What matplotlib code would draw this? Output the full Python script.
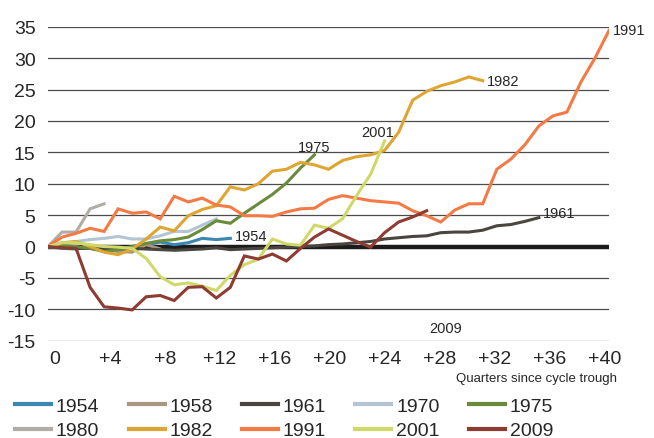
import numpy as np
import matplotlib

matplotlib.use("Agg")
import matplotlib.pyplot as plt
from matplotlib.lines import Line2D

plt.rcParams["font.family"] = ["Liberation Sans", "DejaVu Sans"]
plt.rcParams["axes.unicode_minus"] = False

# Recovery paths: % change from cycle trough, by quarter
years = ["1954", "1958", "1961", "1970", "1975", "1980", "1982", "1991", "2001", "2009"]

y1954 = [0, -0.3, -0.4, 0.1, -0.3, -0.6, -0.7, 0.3, 0.7, 0.3, 0.6, 1.3, 1.1, 1.3]
y1958 = [0, -0.2, -0.3, -0.3, -0.5, -0.8, -0.9, 0.3, -0.4]
y1961 = [0, -0.2, -0.3, -0.3, -0.5, -0.4, -0.3, -0.4, -0.5, -0.6, -0.5, -0.4,
         -0.2, -0.5, -0.4, -0.3, -0.2, -0.1, 0.0, 0.1, 0.3, 0.4, 0.6, 0.8,
         1.2, 1.4, 1.6, 1.7, 2.2, 2.3, 2.3, 2.6, 3.3, 3.5, 4.0, 4.6]
y1970 = [0, 0.4, 0.8, 1.1, 1.3, 1.6, 1.2, 1.2, 1.7, 2.4, 2.4, 3.4, 4.4]
y1975 = [0, 0.2, 0.0, -0.3, -0.8, -0.5, 0.0, 0.5, 0.9, 1.1, 1.5, 2.7, 4.1,
         3.7, 5.3, 6.8, 8.3, 10.1, 12.5, 14.6]
y1980 = [0, 2.3, 2.3, 6.0, 6.8]
y1982 = [0, 0.6, 0.8, 0.0, -0.9, -1.3, -0.4, 1.2, 3.1, 2.5, 4.9, 5.9, 6.5,
         9.5, 9.0, 10.0, 12.0, 12.3, 13.4, 13.0, 12.3, 13.7, 14.3, 14.6, 15.3,
         18.2, 23.3, 24.7, 25.6, 26.2, 27.0, 26.4]
y1991 = [0, 1.5, 2.1, 2.9, 2.4, 6.0, 5.3, 5.5, 4.4, 8.0, 7.1, 7.7, 6.6, 6.3,
         4.9, 4.9, 4.8, 5.5, 6.0, 6.1, 7.5, 8.1, 7.7, 7.3, 7.1, 6.9, 5.7, 4.9,
         3.9, 5.8, 6.8, 6.8, 12.3, 13.9, 16.2, 19.2, 20.8, 21.4, 26.2, 30.0, 34.4]
y2001 = [0, 0.6, 0.6, 0.3, 0.0, -0.1, -0.3, -1.9, -4.8, -6.1, -5.8, -6.3,
         -7.0, -4.6, -2.9, -2.0, 1.2, 0.4, 0.2, 3.4, 2.9, 4.4, 8.1, 11.5, 16.8]
y2009 = [0, -0.2, -0.3, -6.5, -9.6, -9.8, -10.1, -8.0, -7.8, -8.6, -6.5, -6.4,
         -8.2, -6.5, -1.5, -2.0, -1.2, -2.3, -0.3, 1.5, 2.8, 1.8, 0.8, -0.1,
         2.2, 3.9, 4.7, 5.7]

series = [y1954, y1958, y1961, y1970, y1975, y1980, y1982, y1991, y2001, y2009]

colors = ["#3a88b2", "#ab9680", "#4a453f", "#b3c4d4", "#6a8b3c",
          "#b0aca7", "#dea531", "#f47a45", "#cfd96a", "#8e3b32"]

# inline year labels (x in quarters, y in %)
inline_labels = {
    "1954": (13.3, 1.6),
    "1975": (17.8, 15.9),
    "2001": (22.3, 18.3),
    "1982": (31.3, 26.4),
    "1991": (40.3, 34.5),
    "1961": (35.3, 5.3),
    "2009": (27.2, -13.0),
}

xticks = list(range(0, 41, 4))
xtick_labels = ["0"] + [f"+{q}" for q in xticks[1:]]
yticks = list(range(-15, 36, 5))

TEXT = "#262626"
GRID = "#4d4d4d"

fig = plt.figure(figsize=(6.54, 4.39), dpi=100, facecolor="white")
ax = fig.add_axes([0.0734, 0.2216, 0.8578, 0.7153])

for y in yticks:
    if y != 0:
        ax.axhline(y, color=GRID, lw=0.9, zorder=1)
ax.axhline(0, color="#1c1c1c", lw=3.2, zorder=1.5)

for yr, vals, c in zip(years, series, colors):
    ax.plot(np.arange(len(vals)), vals, color=c, lw=2.2, label=yr,
            solid_joinstyle="miter", zorder=2)

for yr, (lx, ly) in inline_labels.items():
    ax.text(lx, ly, yr, fontsize=10.5, color=TEXT, ha="left", va="center")

ax.set_xlim(0, 40)
ax.set_ylim(-15, 35)
# category labels sit slightly inside the plot edges, as in the original
ax.set_xticks(np.linspace(0.5, 39.7, len(xticks)))
ax.set_xticklabels(xtick_labels)
ax.set_yticks(yticks)
ax.set_yticklabels([str(v) for v in yticks])
ax.tick_params(axis="both", length=0, labelsize=14, colors=TEXT)
ax.tick_params(axis="y", pad=9)
ax.tick_params(axis="x", pad=7)
for s in ax.spines.values():
    s.set_visible(False)

fig.text(0.944, 0.136, "Quarters since cycle trough", fontsize=9.5,
         color=TEXT, ha="right", va="center")

# legend: two rows of five, ordered column-major for ncol=5
handles = [Line2D([], [], color=c, lw=3) for c in colors]
order = []
for col in range(5):
    order += [col, col + 5]
fig.legend([handles[i] for i in order], [years[i] for i in order],
           loc="upper left", bbox_to_anchor=(0.023, 0.093), ncol=5,
           frameon=False, fontsize=14, handlelength=1.85,
           handletextpad=0.25, columnspacing=1.5, labelspacing=0.36,
           borderpad=0, borderaxespad=0, labelcolor=TEXT)

fig.savefig("out.png", dpi=100, facecolor="white")
